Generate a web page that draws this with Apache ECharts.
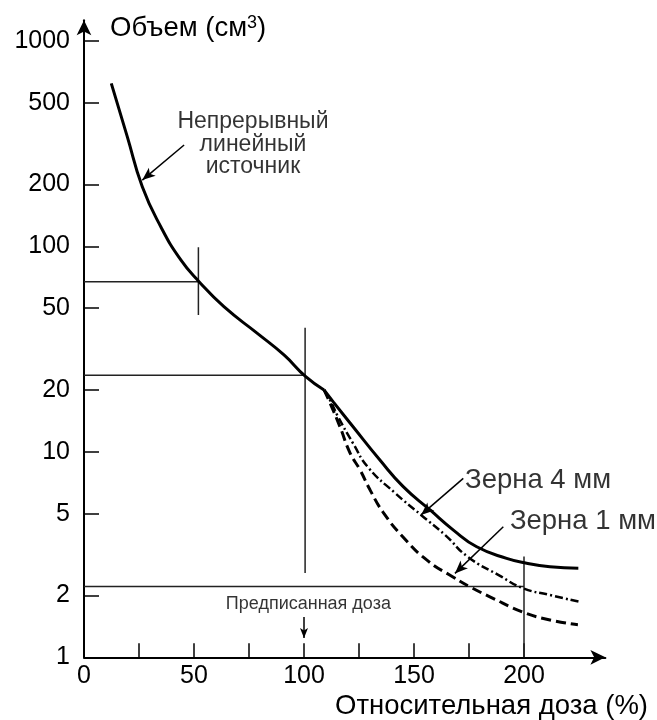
<!DOCTYPE html>
<html><head><meta charset="utf-8">
<script src="https://cdn.jsdelivr.net/npm/echarts@6/dist/echarts.min.js"></script>
<style>html,body{margin:0;padding:0;background:#fff}#c{width:657px;height:720px}</style>
</head><body><div id="c"></div>
<script>
// Relative dose (%) vs volume (cm^3)
const continuousSource = [[12.4,621],[19.7,341],[26.5,195],[34.9,124.5],[44,85.8],[52.3,67.3],[63.6,50.8],[78.8,37.7],[90.9,29.6],[100.8,23.2],[109.1,20.0],[113.3,17.5],[122.4,13.2],[134.5,9.12],[145.1,6.77],[157.3,5.21],[167.9,4.16],[178.5,3.45],[192.1,3.03],[201.2,2.87],[211.8,2.76],[224.7,2.71]];
const seeds4mm = [[109.1,20.0],[111.8,17.9],[115.5,14.8],[122.3,11.0],[129.1,8.41],[141.4,6.30],[153.2,4.93],[164.1,3.94],[174.5,3.08],[189.1,2.49],[199.5,2.17],[211.8,2.01],[225.5,1.86]];
const seeds1mm = [[109.1,20.0],[111.8,17.3],[116.4,13.2],[120.9,9.89],[125.5,8.15],[130,6.53],[135.9,5.09],[145,3.85],[155.9,2.97],[167.7,2.46],[175.5,2.20],[184.5,1.97],[199.5,1.66],[211.8,1.52],[224.5,1.44]];
const yTickValues = [1,2,5,10,20,50,100,200,500,1000];
const xLabelValues = [0,50,100,150,200];
const xTickValues = [25,50,75,100,125,150,175,200];
const refSegments = [
  [[0,67.3],[52,67.3]], [[52,99],[52,46.3]],
  [[0,23.6],[100.5,23.6]], [[100.5,40.2],[100.5,2.57]],
  [[0,2.21],[200,2.21]], [[200,3.09],[200,1]]
];
const arrowSegments = [
  [[45.5,311],[26.5,210]],
  [[172.4,7.43],[153.2,4.93]],
  [[190.6,4.32],[168.6,2.56]],
  [[100,1.57],[100,1.24]]
];
const noteTexts = ['Непрерывный\nлинейный\nисточник','Зерна 4 мм','Зерна 1 мм','Предписанная доза'];
const notePoints = [[76.8,313],[173.2,7.29],[193.6,4.58],[102,1.817]];
const kinkDose = 109.1;

const FONT = '"Liberation Sans", Arial, Helvetica, sans-serif';
const noteAlign = ['center','left','left','center'];
const noteSize = [23,27.5,27.5,18];
const noteLH = [22.5,30,30,20];
const L = v => Math.log10(v);
const tr = arr => arr.map(p => [p[0], L(p[1])]);

const kinkIdx = continuousSource.findIndex(p => p[0] === kinkDose);
const series = [];
series.push({type:'line', data: tr(continuousSource.slice(0, kinkIdx + 1)), smooth:0.5, symbol:'none', lineStyle:{color:'#000', width:3}, z:5});
series.push({type:'line', data: tr(continuousSource.slice(kinkIdx)), smooth:0.5, symbol:'none', lineStyle:{color:'#000', width:3}, z:5});
series.push({type:'line', data: tr(seeds4mm), smooth:0.5, symbol:'none', lineStyle:{color:'#000', width:2.5, type:[8,3,2,3]}, z:4});
series.push({type:'line', data: tr(seeds1mm), smooth:0.5, symbol:'none', lineStyle:{color:'#000', width:3, type:[10,5]}, z:4});
refSegments.forEach(seg => series.push({type:'line', data: tr(seg), symbol:'none', lineStyle:{color:'#222', width:1.5}, z:3}));
series.push({type:'line', data: [], symbol:'none',
  markLine:{silent:true, animation:false, symbol:['none','arrow'], symbolSize:[8,13], label:{show:false},
    lineStyle:{color:'#000', width:1.5, type:'solid'},
    data: arrowSegments.map((s,i) => [{coord:[s[0][0], L(s[0][1])]},{coord:[s[1][0], L(s[1][1])], symbolSize: i===3 ? [6,10] : [8,13]}])
  }});
series.push({type:'scatter', symbolSize:1, itemStyle:{color:'rgba(0,0,0,0)'}, z:10,
  data: notePoints.map((p,i) => ({value:[p[0], L(p[1])], label:{show:true, position:'inside', formatter: noteTexts[i], align: noteAlign[i], verticalAlign:'middle', fontSize: noteSize[i], lineHeight: noteLH[i], color:'#000', fontFamily: FONT}}))
});

const chart = echarts.init(document.getElementById('c'), null, {renderer:'canvas'});
chart.setOption({
  animation:false,
  backgroundColor:'#fff',
  grid:{left:84, right:51.6, top:20.25, bottom:62.7, containLabel:false, outerBoundsMode:'none'},
  xAxis:{type:'value', min:0, max:237,
    axisLine:{onZero:false, lineStyle:{color:'#000', width:2}, symbol:['none','arrow'], symbolSize:[11,15]},
    axisTick:{inside:true, length:14, customValues:xTickValues, lineStyle:{color:'#000', width:1.5}},
    axisLabel:{customValues:xLabelValues, margin:6, fontSize:25, color:'#000', fontFamily:FONT},
    splitLine:{show:false},
    name:'Относительная доза (%)', nameLocation:'end', nameGap:42.6, nameMoveOverlap:false,
    nameTextStyle:{align:'right', verticalAlign:'top', padding:[35,0,0,0], fontSize:27.5, color:'#000', fontFamily:FONT}
  },
  yAxis:{type:'value', min:0, max:3.1,
    axisLine:{onZero:false, lineStyle:{color:'#000', width:2}, symbol:['none','arrow'], symbolSize:[11,15]},
    axisTick:{inside:true, length:15, customValues:yTickValues.slice(1).map(L), lineStyle:{color:'#000', width:1.5}},
    axisLabel:{customValues:yTickValues.map(L), margin:14, fontSize:25, color:'#000', fontFamily:FONT,
      formatter: v => String(Math.round(Math.pow(10, v)))},
    splitLine:{show:false},
    name:'{a|Объем (см}{s|3}{a|)}', nameLocation:'end', nameGap:-8, nameMoveOverlap:false,
    nameTextStyle:{align:'left', verticalAlign:'middle', padding:[0,0,0,26],
      rich:{a:{fontSize:27.5, color:'#000', fontFamily:FONT}, s:{fontSize:18, color:'#000', fontFamily:FONT, verticalAlign:'top'}}}
  },
  series: series
});
</script></body></html>
